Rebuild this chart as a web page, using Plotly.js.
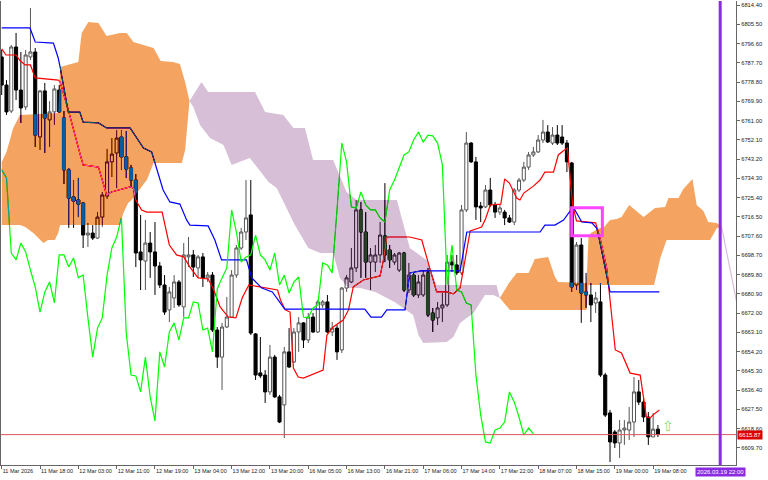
<!DOCTYPE html>
<html><head><meta charset="utf-8">
<script src="https://cdn.plot.ly/plotly-3.0.1.min.js"></script>
<style>html,body{margin:0;padding:0;background:#fff;}#chart{width:768px;height:480px;}</style>
</head><body><div id="chart"></div>
<script>
// ---- candles (hourly bars, index 0 = 11 Mar 2026 10:00) ----
const open = [
6790.4,6777.4,6765.4,6795.0,6775.1,6767.3,6790.4,6792.7,6753.4,6774.7,
6761.3,6765.0,6775.1,6762.2,6738.2,6725.7,6724.3,6722.9,6708.1,6709.0,
6706.7,6716.4,6726.1,6741.9,6746.0,6753.4,6744.2,6739.1,6733.5,6700.3,
6696.1,6704.4,6700.3,6693.8,6685.0,6673.5,6679.0,6686.4,6674.9,6698.0,
6698.9,6692.9,6698.0,6688.3,6689.6,6664.2,6651.7,6665.6,6670.2,6689.6,
6702.1,6709.5,6717.4,6662.4,6644.4,6643.4,6635.6,6651.7,6633.3,6629.6,
6654.1,6649.4,6663.3,6667.5,6659.6,6670.2,6663.3,6675.8,6677.2,6663.3,
6665.1,6655.0,6683.6,6686.4,6692.9,6719.7,6709.5,6695.6,6695.6,6698.9,
6707.7,6701.2,6695.6,6691.9,6699.8,6682.7,6689.6,6680.4,6680.4,6690.6,
6672.1,6669.8,6674.4,6675.8,6695.6,6694.3,6690.6,6719.7,6750.6,6741.9,
6721.5,6721.1,6728.9,6722.0,6718.7,6718.7,6716.0,6714.1,6728.9,6733.5,
6739.5,6745.1,6746.5,6752.0,6755.7,6750.6,6754.3,6753.4,6750.6,6741.4,
6685.0,6703.5,6681.8,6680.4,6676.7,6677.2,6643.4,6625.9,6617.1,6612.0,
6618.0,6618.0,6621.7,6635.6,6630.9,6624.0,6614.8,6618.4];
const high = [
6793.6,6779.7,6795.9,6801.5,6792.7,6793.6,6813.0,6794.5,6775.1,6778.4,
6770.0,6777.4,6777.4,6765.4,6739.1,6733.5,6734.5,6723.4,6713.7,6712.7,
6718.7,6728.0,6747.9,6752.9,6756.6,6756.6,6756.2,6740.5,6736.3,6717.4,
6715.1,6709.5,6714.1,6695.6,6689.6,6684.1,6689.6,6687.3,6704.4,6707.2,
6701.2,6698.9,6699.8,6691.0,6691.0,6665.6,6667.5,6679.5,6691.9,6703.5,
6711.4,6733.5,6733.5,6662.8,6661.0,6645.7,6657.3,6652.7,6634.2,6656.4,
6665.1,6665.1,6670.2,6667.9,6672.1,6672.1,6678.1,6678.1,6680.4,6667.9,
6666.5,6684.1,6689.6,6702.1,6724.3,6723.4,6718.7,6702.1,6703.5,6714.1,
6732.1,6703.5,6699.8,6700.3,6700.3,6695.2,6691.0,6689.6,6691.9,6692.9,
6674.4,6677.2,6681.3,6698.9,6698.9,6698.9,6722.0,6755.7,6751.1,6744.2,
6723.4,6731.2,6734.5,6723.4,6722.0,6719.7,6717.4,6729.8,6734.5,6741.9,
6746.5,6748.8,6754.3,6761.3,6758.9,6758.0,6758.9,6758.9,6752.0,6741.9,
6704.9,6706.7,6690.6,6685.9,6681.8,6685.9,6644.4,6627.3,6618.0,6622.6,
6622.6,6628.6,6642.5,6641.1,6633.3,6626.3,6625.9,6620.3];
const low = [
6772.8,6763.6,6764.5,6770.5,6759.9,6765.9,6789.0,6748.8,6747.4,6746.0,
6748.8,6759.0,6764.5,6731.7,6711.4,6711.4,6716.4,6702.1,6702.6,6705.8,
6706.3,6711.8,6724.8,6734.9,6729.8,6738.2,6734.5,6730.3,6693.3,6682.7,
6682.7,6688.3,6680.4,6683.6,6671.2,6667.9,6674.4,6674.9,6670.2,6693.3,
6688.7,6688.3,6684.1,6686.4,6663.3,6646.7,6636.5,6665.1,6669.8,6688.3,
6701.2,6705.8,6661.9,6641.1,6642.0,6630.5,6634.2,6632.8,6621.2,6614.3,
6646.7,6649.0,6654.1,6655.9,6658.2,6662.8,6662.8,6674.4,6662.8,6661.4,
6650.4,6653.6,6681.8,6685.9,6691.0,6688.3,6688.3,6682.7,6691.0,6695.2,
6695.6,6692.9,6694.3,6691.0,6681.8,6681.3,6679.5,6679.0,6679.5,6670.2,
6663.3,6666.5,6667.9,6674.9,6691.0,6689.6,6689.6,6718.7,6741.4,6715.1,
6714.1,6720.6,6721.1,6716.0,6717.4,6712.7,6713.7,6712.7,6728.0,6732.6,
6738.2,6744.2,6746.0,6750.6,6750.6,6749.7,6749.7,6749.7,6737.2,6681.8,
6682.7,6667.5,6674.4,6667.9,6672.1,6642.5,6624.0,6603.2,6609.7,6605.1,
6611.1,6613.4,6614.8,6629.6,6621.7,6611.1,6614.8,6614.8];
const close = [
6777.4,6765.0,6795.0,6775.1,6766.8,6791.3,6792.7,6754.3,6774.7,6762.2,
6765.0,6775.6,6765.0,6738.2,6725.2,6723.8,6722.4,6708.1,6709.0,6706.7,
6716.4,6726.6,6741.9,6745.5,6752.9,6744.2,6738.6,6733.5,6699.8,6696.6,
6704.4,6700.3,6693.8,6685.0,6672.5,6681.8,6686.4,6675.8,6698.9,6698.9,
6693.3,6698.0,6688.3,6689.6,6664.2,6651.7,6665.6,6670.2,6689.6,6702.1,
6709.5,6716.0,6662.8,6643.4,6643.0,6635.6,6651.7,6633.3,6621.7,6654.1,
6647.1,6663.3,6667.5,6659.6,6670.2,6663.3,6677.2,6677.2,6663.3,6665.1,
6654.1,6683.6,6688.3,6692.9,6719.7,6709.5,6695.6,6698.9,6698.9,6708.1,
6698.9,6696.6,6698.9,6699.8,6682.7,6689.6,6680.4,6686.4,6689.6,6671.2,
6668.8,6674.4,6675.8,6695.6,6694.3,6690.6,6719.7,6750.6,6741.9,6721.1,
6720.6,6728.9,6722.0,6718.7,6720.6,6716.0,6714.1,6728.9,6733.5,6739.5,
6745.1,6746.5,6752.0,6755.7,6751.1,6754.3,6750.6,6750.6,6741.9,6684.1,
6703.5,6681.3,6680.4,6675.8,6679.0,6643.4,6624.9,6612.5,6612.0,6618.0,
6618.9,6621.7,6635.6,6630.9,6624.0,6614.8,6618.4,6615.87];

// ---- Ichimoku lines ----
const tenkanBar = [0,0.9,3,3.9,4.9,6,7,11.8,12.2,13.9,16.3,17,20.2,21.9,22.9,26.8,27.5,28,29.2,30.3,33.5,35,36.5,38,39.3,41,43.1,44.2,45.6,47.3,48.9,50.2,51.6,55,57.6,58.2,59.2,60.2,60.9,61.9,63,67.1,67.9,69.2,71.3,72.4,73.4,75.5,79,79.7,80.4,85.2,87.7,88.7,90.1,90.8,92.9,94.3,95.7,96.4,97.8,100.2,101,102,104.2,105,106,107.5,108.2,109,111,112.4,113.4,115.2,116.2,117.2,118.1,119.2,120,124,125,126.3,127,128.1,129.4,131.2,133.3,134,134.6,135.4,136,137.3];
const tenkan = [6794.1,6791.3,6791.3,6788.5,6786.7,6786.7,6780.7,6779.7,6778.8,6765.9,6746.0,6740.5,6739.5,6726.6,6728.0,6730.3,6729.8,6724.3,6719.7,6718.7,6718.7,6703.5,6698.9,6698.0,6693.3,6688.3,6687.8,6683.2,6674.9,6670.2,6669.8,6679.0,6685.0,6683.6,6682.7,6678.1,6673.5,6672.5,6646.6,6642.5,6642.0,6645.7,6661.9,6665.6,6668.8,6673.5,6684.1,6687.3,6689.2,6696.6,6707.2,6707.2,6705.8,6698.0,6687.3,6681.8,6681.8,6680.9,6683.6,6691.9,6710.0,6711.8,6715.5,6722.0,6722.4,6734.0,6732.1,6725.2,6724.3,6727.5,6730.7,6733.5,6737.2,6737.2,6745.1,6746.9,6748.3,6722.0,6714.6,6713.7,6705.8,6692.9,6678.1,6655.0,6653.6,6644.3,6643.4,6631.9,6624.0,6623.6,6625.0,6627.2];
const kijunBar = [0,5.9,7,10.8,11.8,12.2,13.9,16.3,17,20.2,21.9,26.8,29.6,31.3,32,33.7,35.1,37.2,38.6,39.3,43.1,44.5,45.9,51.1,52.2,54.3,56.5,58.1,59.1,75.8,77.1,79.3,80.4,84.2,85.2,87.5,95.7,97.1,112.4,113.4,115.5,117.3,119.3,121.1,123.2,124.2,124.5,127,137.3];
const kijun = [6803.8,6803.8,6797.3,6796.8,6789.9,6785.7,6764.9,6764.9,6760.3,6759.9,6757.6,6757.6,6748.3,6746.5,6741.4,6728.9,6723.4,6722.4,6715.1,6712.7,6712.3,6705.8,6696.6,6696.6,6688.3,6683.6,6681.8,6677.2,6673.9,6673.9,6670.2,6670.2,6673.5,6673.5,6690.6,6691.5,6691.5,6709.5,6709.5,6712.7,6712.7,6715.0,6721.1,6714.1,6713.7,6711.3,6709.0,6681.8,6681.8];
const chikou = [
6738.2,6734.5,6699.8,6696.6,6704.4,6700.3,6691.9,6684.1,6672.5,6681.8,
6686.4,6676.7,6698.9,6698.9,6693.3,6697.5,6688.3,6689.6,6669.8,6651.7,
6665.1,6669.8,6689.6,6702.1,6707.2,6716.0,6662.8,6643.4,6643.0,6635.6,
6651.7,6633.3,6622.2,6654.1,6647.1,6663.3,6667.5,6659.6,6669.8,6669.8,
6677.2,6676.7,6664.2,6665.1,6654.1,6683.2,6688.3,6692.9,6719.7,6709.5,
6695.6,6697.9,6698.9,6708.1,6698.9,6696.6,6691.9,6699.8,6685.0,6689.6,
6681.3,6686.4,6688.7,6670.2,6669.8,6674.4,6675.8,6695.2,6694.3,6690.6,
6719.7,6750.6,6741.9,6721.1,6720.6,6728.0,6722.0,6719.7,6719.7,6716.0,
6714.1,6728.9,6733.5,6739.5,6745.1,6746.5,6752.0,6755.7,6751.1,6754.3,
6753.9,6750.6,6740.5,6685.0,6703.5,6682.7,6681.8,6676.7,6675.8,6643.4,
6624.9,6612.5,6612.0,6618.0,6618.9,6621.7,6635.6,6631.0,6624.0,6615.7,
6618.9,6616.2];

// ---- Kumo (Senkou span A / B), split where they cross ----
const spanA1Bar = [0,1,2.4,3.8,11.8,12.2,16,16.7,18.1,20.2,21.9,24.7,26.1,27.5,31.7,33.2,35.8,37.2,38.3,39.2];
const spanA1 = [6741.8,6746.5,6757.6,6763.6,6764.5,6785.7,6788.1,6801.5,6806.5,6806.1,6800.1,6801.5,6801.5,6797.3,6794.5,6788.5,6788.1,6787.1,6778.8,6770.0];
const spanB1Bar = [0,3.8,4.9,6.6,8.7,9.7,11.1,11.8,12.2,24.7,25.4,26.4,27.1,28.2,30.3,31.7,37.6,38.3,39.2];
const spanB1 = [6712.7,6712.7,6711.8,6709.0,6704.4,6705.8,6705.8,6709.0,6712.7,6712.7,6718.3,6722.9,6724.3,6727.5,6733.5,6741.4,6741.4,6747.4,6770.0];
const spanB2Bar = [39.2,41.7,43.1,52.9,55,58.8,60.9,63.3,65,69.2,72,74.1,82.5,83.8,85.2,88.7,90.8,103.3,104];
const spanB2 = [6770.0,6778.8,6774.2,6774.2,6764.9,6763.6,6757.6,6757.6,6742.8,6742.8,6728.0,6724.3,6724.3,6714.1,6702.1,6696.6,6685.0,6685.0,6679.0];
const spanA2Bar = [39.2,40,41.4,43.5,46.3,48,49.4,51.8,55.7,57.4,61.2,64,66.5,69.2,70.6,72.4,74.8,78,82,85.9,87,88,92.9,94.3,95.7,98.5,100.9,102.6,104];
const spanA2 = [6770.0,6767.3,6758.9,6752.9,6749.7,6740.5,6741.9,6743.7,6732.6,6729.8,6712.7,6702.1,6699.8,6699.8,6688.3,6683.6,6683.6,6681.8,6677.2,6671.1,6661.9,6658.2,6658.7,6661.0,6667.5,6672.1,6680.4,6680.4,6679.0];
const spanA3Bar = [104,105.9,107.5,110,111.3,114.1,115.5,116.2,122.1,122.5,123,124.9,125.6,127,128.4,129.4,131,133.3,134,136.4,138.5,139.2,141.3,142.3,144.2,145.1,146.5,147.5,149.3,150.3];
const spanA3 = [6679.0,6685.9,6690.6,6690.6,6697.0,6697.9,6688.7,6686.4,6685.9,6707.2,6709.0,6711.4,6711.4,6715.1,6715.5,6716.4,6722.0,6717.4,6716.4,6720.6,6721.1,6725.2,6725.2,6729.4,6734.0,6722.0,6719.2,6714.1,6713.7,6711.8];
const spanB3Bar = [104,106.1,122.1,122.5,136.2,137.5,138.8,147.9,149.3,150.3];
const spanB3 = [6679.0,6673.5,6673.5,6685.0,6685.0,6697.5,6705.8,6705.8,6711.4,6711.8];
const spanB4Bar = [150.3,153.5];
const spanB4 = [6711.8,6678.1];
const spanA4Bar = [150.3,153.5];
const spanA4 = [6711.8,6676.4];

// ---- axes / annotations ----
const xTickText = ['11 Mar 2026','11 Mar 18:00','12 Mar 03:00','12 Mar 11:00','12 Mar 19:00','13 Mar 04:00','13 Mar 12:00','13 Mar 20:00','16 Mar 05:00','16 Mar 13:00','16 Mar 21:00','17 Mar 06:00','17 Mar 14:00','17 Mar 22:00','18 Mar 07:00','18 Mar 15:00','19 Mar 00:00','19 Mar 08:00'];
const yTickVals = [6814.40,6805.50,6796.60,6787.70,6778.80,6769.90,6761.00,6752.10,6743.20,6734.30,6725.40,6716.50,6707.60,6698.70,6689.80,6680.90,6672.00,6663.10,6654.20,6645.30,6636.40,6627.50,6618.60,6609.70];
const bidPrice = 6615.87;
const cursorBar = 150;
const cursorLabel = '2026.03.19 22:00';
const boxBars = [119.0, 125.4];
const boxPrices = [6707.8, 6720.7];
const arrowBar = 139.1, arrowPrice = 6619.9;

const idx = close.map((_, i) => i);
const chikouX = chikou.map((_, i) => i);
const xTickBars = xTickText.map((_, i) => i * 8);

function poly(ub, uy, lb, ly, inv) {
  return {type:'scatter', mode:'lines', x: ub.concat(lb.slice().reverse()), y: uy.concat(ly.slice().reverse()),
    fill:'toself', fillcolor: inv, line:{width:0, color: inv}, hoverinfo:'skip'};
}
const ORANGE_INV = '#0b5b9f';   // difference-blended over white -> sandybrown
const THISTLE_INV = '#274027';  // difference-blended over white -> thistle

const data = [
  {type:'candlestick', x: idx, open, high, low, close, hoverinfo:'skip', whiskerwidth:0,
   increasing:{line:{color:'#555555', width:1}, fillcolor:'#ffffff'},
   decreasing:{line:{color:'#000000', width:1}, fillcolor:'#000000'}},
  {type:'scatter', mode:'lines', x: tenkanBar, y: tenkan, line:{color:'#ff0000', width:1.2}, hoverinfo:'skip'},
  {type:'scatter', mode:'lines', x: kijunBar, y: kijun, line:{color:'#0000ff', width:1.2}, hoverinfo:'skip'},
  {type:'scatter', mode:'lines', x: chikouX, y: chikou, line:{color:'#00ff00', width:1.2}, hoverinfo:'skip'},
  poly(spanA1Bar, spanA1, spanB1Bar, spanB1, ORANGE_INV),
  poly(spanB2Bar, spanB2, spanA2Bar, spanA2, THISTLE_INV),
  poly(spanA3Bar, spanA3, spanB3Bar, spanB3, ORANGE_INV),
  poly(spanB4Bar, spanB4, spanA4Bar, spanA4, THISTLE_INV)
];
data[7].line = {width:1.2, color: THISTLE_INV};

const fontS = {family:'Liberation Sans, Arial, sans-serif', color:'#222'};
const layout = {
  width:768, height:480, margin:{l:1, r:32, t:1, b:15},
  paper_bgcolor:'#ffffff', plot_bgcolor:'#ffffff', showlegend:false,
  boxgap:0.2, boxgroupgap:0.2,
  xaxis:{range:[-0.146,153.3], showgrid:false, zeroline:false, showline:true, linecolor:'#666', linewidth:1,
    ticks:'outside', ticklen:3, tickcolor:'#666', tickvals: xTickBars, ticktext: xTickText, tickangle:0,
    ticklabelposition:'outside right', tickfont:Object.assign({size:5.5}, fontS), rangeslider:{visible:false},
    fixedrange:true, automargin:false},
  yaxis:{range:[6601.83,6816.25], side:'right', showgrid:false, zeroline:false, showline:true, mirror:true,
    linecolor:'#666', linewidth:1, ticks:'outside', ticklen:3, tickcolor:'#666', automargin:false,
    tickvals: yTickVals, ticktext: yTickVals.map(v => v.toFixed(2)), tickfont:Object.assign({size:5.8}, fontS), fixedrange:true},
  shapes:[
    {type:'line', xref:'paper', x0:0, x1:1, yref:'y', y0:bidPrice, y1:bidPrice, line:{color:'#e05555', width:1}, layer:'above'},
    {type:'line', xref:'x', x0:cursorBar, x1:cursorBar, yref:'paper', y0:0, y1:1, line:{color:'#8a2be2', width:3}, layer:'above'},
    {type:'rect', xref:'x', x0:boxBars[0], x1:boxBars[1], yref:'y', y0:boxPrices[0], y1:boxPrices[1], line:{color:'#ff44ff', width:3}, layer:'above'}
  ],
  annotations:[
    {xref:'paper', x:1, xanchor:'left', xshift:1, yref:'y', y:bidPrice, text:bidPrice.toFixed(2), showarrow:false,
     bgcolor:'#dd0000', borderpad:1, font:{family:'Liberation Sans, Arial', size:6, color:'#ffffff'}},
    {xref:'x', x:cursorBar, yref:'paper', y:0, yanchor:'top', yshift:-2, text:cursorLabel, showarrow:false,
     bgcolor:'#8a2be2', borderpad:1, font:{family:'Liberation Sans, Arial', size:6, color:'#ffffff'}},
    {xref:'x', x:arrowBar, yref:'y', y:arrowPrice, text:'\u21E7', showarrow:false,
     font:{family:'DejaVu Sans', size:14, color:'#80e080'}}
  ]
};

function blendKumo(gd) {
  // The candles' layer sits inside the isolated (clipped) blending group: give it a white backdrop,
  // then draw the kumo in "difference" mode like the terminal does (inverted colours over candles/lines).
  const svgNS = 'http://www.w3.org/2000/svg';
  const boxLayer = gd.querySelector('.boxlayer');
  if (boxLayer && !boxLayer.querySelector('rect.kumo-bg')) {
    const r = document.createElementNS(svgNS, 'rect');
    r.setAttribute('class', 'kumo-bg');
    r.setAttribute('x', -100); r.setAttribute('y', -100);
    r.setAttribute('width', 3000); r.setAttribute('height', 3000);
    r.setAttribute('fill', '#ffffff');
    boxLayer.insertBefore(r, boxLayer.firstChild);
  }
  const traces = gd.querySelectorAll('.scatterlayer .trace');
  const n = traces.length;
  for (let i = n - 4; i < n; i++) {
    traces[i].style.mixBlendMode = 'difference';
    traces[i].querySelectorAll('path').forEach(p => p.style.mixBlendMode = 'normal');
  }
}

Plotly.newPlot('chart', data, layout, {staticPlot:true}).then(gd => { blendKumo(gd); });
</script>
</body></html>
